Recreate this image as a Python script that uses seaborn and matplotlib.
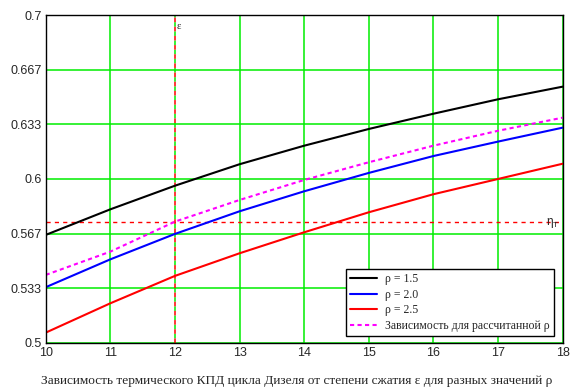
import pandas as pd
import matplotlib
matplotlib.use("Agg")
import matplotlib.pyplot as plt
import seaborn as sns

# compression ratio and efficiency values
eps = [10, 11, 12, 13, 14, 15, 16, 17, 18]
eta_rho15 = [0.5659, 0.5815, 0.5959, 0.6090, 0.6203, 0.6305, 0.6398, 0.6486, 0.6563]
eta_rho20 = [0.5340, 0.5510, 0.5665, 0.5803, 0.5925, 0.6037, 0.6140, 0.6228, 0.6313]
eta_rho25 = [0.5063, 0.5242, 0.5409, 0.5547, 0.5675, 0.5797, 0.5907, 0.6000, 0.6093]
eta_calc = [0.5415, 0.5557, 0.5740, 0.5872, 0.5994, 0.6102, 0.6203, 0.6294, 0.6374]

labels = ["ρ = 1.5", "ρ = 2.0", "ρ = 2.5", "Зависимость для рассчитанной ρ"]
colors = ["black", "#0000ff", "#ff0000", "#ff00ff"]

eta_t = 0.5736      # horizontal marker
eps_mark = 12       # vertical marker

y_ticks = [0.5, 0.533, 0.567, 0.6, 0.633, 0.667, 0.7]
y_grid = [0.5 + i * 0.2 / 6 for i in range(7)]

df = pd.DataFrame({
    "eps": eps * 4,
    "eta": eta_rho15 + eta_rho20 + eta_rho25 + eta_calc,
    "series": sum([[lab] * len(eps) for lab in labels], []),
})

sns.set_style("white")
plt.rcParams["font.family"] = ["Liberation Sans", "DejaVu Sans"]

grid_green = "#00ee00"

fig = plt.figure(figsize=(5.77, 3.91), dpi=100)
ax = fig.add_axes([0.0792, 0.1228, 0.8958, 0.8388])

# green grid
for x in range(10, 19):
    if x != eps_mark:
        ax.axvline(x, color=grid_green, lw=1.1, zorder=1)
for y in y_grid:
    ax.axhline(y, color=grid_green, lw=1.1, zorder=1)

sns.lineplot(data=df, x="eps", y="eta", hue="series", style="series",
             palette=dict(zip(labels, colors)),
             dashes={labels[0]: "", labels[1]: "", labels[2]: "", labels[3]: (2, 1.6)},
             lw=1.5, ax=ax, zorder=3)

ax.axhline(eta_t, color="#ff0000", lw=1.0, ls=(0, (3, 3)), zorder=2)
ax.axvline(eps_mark, color="#ff0000", lw=1.1, ls=(0, (3, 3)),
           gapcolor=grid_green, zorder=2)
ax.text(eps_mark + 0.02, 0.693, "ε", fontsize=7.5, family="Liberation Serif",
        ha="left", va="center")
ax.text(17.75, eta_t - 0.0005, r"$\mathregular{\eta_T}$", fontsize=8.5,
        ha="left", va="center", zorder=4)

ax.set_xlim(10, 18)
ax.set_ylim(0.5, 0.7)
ax.set_xticks(range(10, 19))
ax.set_yticks(y_grid)
ax.set_yticklabels([f"{v:g}" for v in y_ticks])
ax.tick_params(length=0, labelsize=9, pad=3)
for s in ax.spines.values():
    s.set_color("black")
    s.set_linewidth(1.0)
    s.set_zorder(5)

ax.set_xlabel("")
ax.set_ylabel("")
fig.text(297 / 577, 1 - 381 / 391,
         "Зависимость термического КПД цикла Дизеля от степени сжатия ε для разных значений ρ",
         family="Liberation Serif", fontsize=9.6, ha="center", va="center")

leg = ax.legend(loc="lower right", prop={"family": "Liberation Serif", "size": 8.5},
                frameon=True, fancybox=False, edgecolor="black", framealpha=1,
                handlelength=2.3, handletextpad=0.7, borderpad=0.35,
                labelspacing=0.3, borderaxespad=0,
                bbox_to_anchor=(0.9836, 0.0213))
leg.get_frame().set_linewidth(1.0)
leg.set_zorder(6)

fig.savefig("out.png", dpi=100)
